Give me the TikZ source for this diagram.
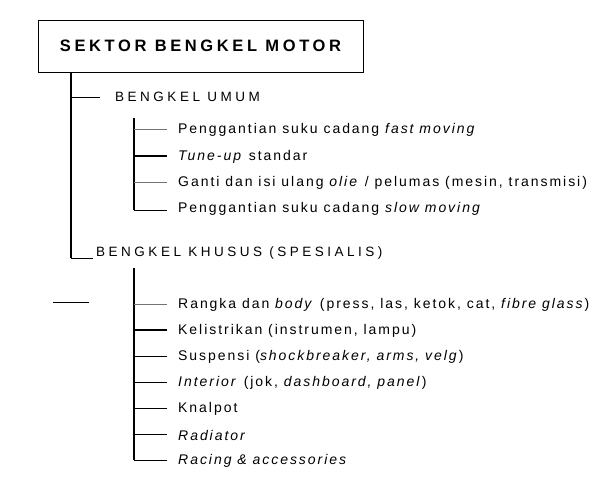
\documentclass[tikz,border=0pt]{standalone}
\usepackage{fontspec}
\setmainfont{Liberation Sans}
\newfontfamily\itemfont[LetterSpace=14]{Liberation Sans}
\newfontfamily\capfont[LetterSpace=26]{Liberation Sans}
\newfontfamily\titlefont[LetterSpace=22]{Liberation Sans}
\begin{document}
\begin{tikzpicture}[x=1pt,y=-1pt,
  item/.style={anchor=west,inner sep=0pt,font=\itemfont\fontsize{14}{16}\selectfont},
  head/.style={anchor=west,inner sep=0pt,font=\capfont\fontsize{13.5}{15}\selectfont},
  thin/.style={draw=black!55,line width=0.8pt},
  thick/.style={draw=black,line width=1.5pt},
  norm/.style={draw=black,line width=1pt}]
\useasboundingbox (0,0) rectangle (613,480);
% title
\node[draw=black,line width=1pt,minimum width=325pt,minimum height=52pt,inner sep=0pt,
      font=\titlefont\bfseries\fontsize{16.5}{18}\selectfont] (title) at (200.5,46) {SEKTOR BENGKEL MOTOR};
% level 1
\node[head] (umum) at (115,97) {BENGKEL UMUM};
\node[head] (khusus) at (96,253) {BENGKEL KHUSUS (SPESIALIS)};
\coordinate (mtop) at (71,72);
\coordinate (mbot) at (71,258);
\draw[line width=1.6pt] (mtop) -- (mbot);
\draw[norm] (71,97) -- ([xshift=-15pt]umum.west);
\draw[norm] (mbot) -- (93,258);
% group 1
\node[item] (a1) at (178,130) {Penggantian suku cadang \textit{fast moving}};
\node[item] (a2) at (178,157) {\textit{Tune-up} standar};
\node[item] (a3) at (178,183) {Ganti dan isi ulang \textit{olie} / pelumas (mesin, transmisi)};
\node[item] (a4) at (178,209) {Penggantian suku cadang \textit{slow moving}};
\coordinate (g1top) at (134,118);
\coordinate (g1bot) at (134,210);
\draw[line width=1.2pt] (g1top) -- (g1bot);
\draw[thin] (134,129) -- ([xshift=-11pt]a1.west |- 0,129);
\draw[thick] (134,156) -- ([xshift=-11pt]a2.west |- 0,156);
\draw[thin] (134,182) -- ([xshift=-11pt]a3.west |- 0,182);
\draw[norm] (g1bot) -- ([xshift=-11pt]a4.west |- g1bot);
% group 2
\node[item] (b1) at (178,305) {Rangka dan \textit{body} (press, las, ketok, cat, \textit{fibre glass})};
\node[item] (b2) at (178,331) {Kelistrikan (instrumen, lampu)};
\node[item] (b3) at (178,357) {Suspensi (\textit{shockbreaker, arms, velg})};
\node[item] (b4) at (178,383) {\textit{Interior} (jok, \textit{dashboard, panel})};
\node[item] (b5) at (178,409) {Knalpot};
\node[item] (b6) at (178,435) {\textit{Radiator}};
\node[item] (b7) at (178,461) {\textit{Racing \& accessories}};
\coordinate (g2top) at (134,268);
\coordinate (g2bot) at (134,460);
\draw[line width=1.4pt] (g2top) -- (g2bot);
\draw[thin] (134,304) -- ([xshift=-11pt]b1.west |- 0,304);
\draw[thick] (134,330) -- ([xshift=-11pt]b2.west |- 0,330);
\draw[norm] (134,356) -- ([xshift=-11pt]b3.west |- 0,356);
\draw[norm] (134,382) -- ([xshift=-11pt]b4.west |- 0,382);
\draw[norm] (134,408) -- ([xshift=-11pt]b5.west |- 0,408);
\draw[norm] (134,434) -- ([xshift=-11pt]b6.west |- 0,434);
\draw[norm] (g2bot) -- ([xshift=-11pt]b7.west |- g2bot);
% stray line
\coordinate (s1) at (53,302);
\coordinate (s2) at (89,302);
\draw[norm] (s1) -- (s2);
\end{tikzpicture}
\end{document}
